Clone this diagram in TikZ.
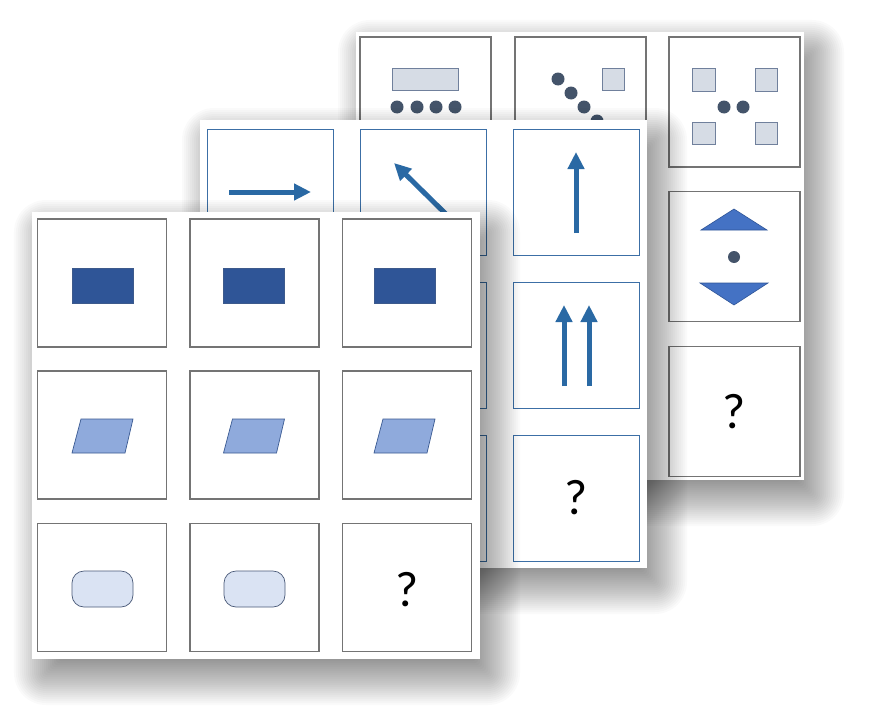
\documentclass[tikz,border=0pt]{standalone}
\usepackage{fontspec}
\setmainfont{Carlito}
\usetikzlibrary{arrows.meta}
\definecolor{cellgray}{HTML}{747474}
\definecolor{cellblue}{HTML}{3C6FA6}
\definecolor{arrowblue}{HTML}{2A69A4}
\definecolor{darkrect}{HTML}{2F5597}
\definecolor{darkrectb}{HTML}{3D5A8C}
\definecolor{parafill}{HTML}{8FAADC}
\definecolor{paradraw}{HTML}{3A5A92}
\definecolor{pillfill}{HTML}{DAE3F3}
\definecolor{pilldraw}{HTML}{4A5A78}
\definecolor{sqfill}{HTML}{D6DCE5}
\definecolor{sqdraw}{HTML}{70809C}
\definecolor{dotcol}{HTML}{44546A}
\definecolor{trifill}{HTML}{4472C4}
\definecolor{tridraw}{HTML}{2F5597}
\tikzset{
  panel/.style={fill=white},
  backcell/.style={draw=cellgray, line width=1.1pt, fill=white, minimum width=131pt, minimum height=130pt, inner sep=0pt},
  midcell/.style={draw=cellblue, line width=0.8pt, fill=white, minimum width=126pt, minimum height=126pt, inner sep=0pt},
  frontcell/.style={draw=cellgray, line width=1.1pt, fill=white, minimum width=129pt, minimum height=128pt, inner sep=0pt},
  qmark/.style={font=\fontsize{50}{60}\selectfont, inner sep=0pt},
  dotsh/.style={fill=dotcol},
  sq/.style={fill=sqfill, draw=sqdraw, line width=0.9pt},
  tri/.style={fill=trifill, draw=tridraw, line width=0.6pt},
  arr/.style={draw=arrowblue, line width=5pt, -{Triangle[length=17pt,width=16pt]}},
  drect/.style={fill=darkrect, draw=darkrectb, line width=0.6pt},
  para/.style={fill=parafill, draw=paradraw, line width=0.7pt},
  pill/.style={fill=pillfill, draw=pilldraw, line width=0.7pt, rounded corners=12pt},
  shadowlayer/.style={fill=black, fill opacity=0.021},
}
% #1,#2 top-left ; #3,#4 bottom-right (pixel units), shadow offset 11,17 radius 30
\newcommand\mypanelshadow[4]{%
  \foreach \k in {1,...,30}{%
    \pgfmathsetmacro\e{30*(1-(2*\k-1)/30)}%
    \pgfmathsetmacro\rc{max(\e,0)+3}%
    \fill[shadowlayer, rounded corners=\rc pt] (#1+11-\e,#2+17-\e) rectangle (#3+11+\e,#4+17+\e);
  }%
}
\begin{document}
\begin{tikzpicture}[x=1pt,y=-1pt]
\useasboundingbox[fill=white] (0,0) rectangle (869,725);
% ---------------- back panel
\mypanelshadow{356}{32}{804}{480}
\path[panel] (356,32) rectangle (804,480);
\node[backcell] (b11) at (425.5,102) {};
\node[backcell] (b12) at (580.5,102) {};
\node[backcell] (b13) at (734.5,102) {};
\node[backcell] (b23) at (734.5,256.5) {};
\node[backcell] (b33) at (734.5,411.5) {};
% b11
\draw[sq] (392,68) rectangle (458,90);
\foreach \x in {397,417,436,455} \fill[dotsh] (\x,107) circle (6.5);
% b12
\foreach \x/\y in {558/79,571/93,584/107,597/121} \fill[dotsh] (\x,\y) circle (6.5);
\draw[sq] (602,68) rectangle (624,90);
% b13
\draw[sq] (692,68) rectangle (715,91);
\draw[sq] (755,68) rectangle (777,91);
\draw[sq] (692,122) rectangle (715,144);
\draw[sq] (755,122) rectangle (777,144);
\fill[dotsh] (724,107) circle (6.5);
\fill[dotsh] (743,107) circle (6.5);
% b23
\draw[tri] (701,230) -- (767,230) -- (734,209) -- cycle;
\fill[dotsh] (734,257) circle (6);
\draw[tri] (700,283) -- (768,283) -- (734,305) -- cycle;
% b33
\node[qmark] (q3) at (b33) {?};
% ---------------- middle panel
\mypanelshadow{200}{120}{647}{568}
\path[panel] (200,120) rectangle (647,568);
\node[midcell] (m11) at (270,192) {};
\node[midcell] (m12) at (423.5,192) {};
\node[midcell] (m13) at (576.5,192) {};
\node[midcell] (m22) at (423.5,345) {};
\node[midcell] (m23) at (576.5,345) {};
\node[midcell] (m32) at (423.5,498) {};
\node[midcell] (m33) at (576.5,498) {};
\draw[arr] (229,192) -- (311,192);
\draw[arr] (454,222) -- (394,163);
\draw[arr] (576,233) -- (576,152);
\draw[arr] (564,386) -- (564,305);
\draw[arr] (589,386) -- (589,305);
\node[qmark] (q2) at (m33) {?};
% ---------------- front panel
\mypanelshadow{32}{212}{480}{659}
\path[panel] (32,212) rectangle (480,659);
\foreach \c/\x in {1/102,2/254.5,3/407}{
  \node[frontcell] (f1\c) at (\x,283) {};
  \node[frontcell] (f2\c) at (\x,435) {};
  \node[frontcell] (f3\c) at (\x,587.5) {};
}
\foreach \x in {102.5,254,404.5}{
  \draw[drect] (\x-30.5,268) rectangle (\x+30.5,303);
  \draw[para] (\x-30.5,453) -- (\x+22.5,453) -- (\x+30.5,419) -- (\x-21.5,419) -- cycle;
}
\draw[pill] (72,571) rectangle (133,607);
\draw[pill] (224,571) rectangle (285,607);
\node[qmark] (q1) at (407,590) {?};
\end{tikzpicture}
\end{document}
